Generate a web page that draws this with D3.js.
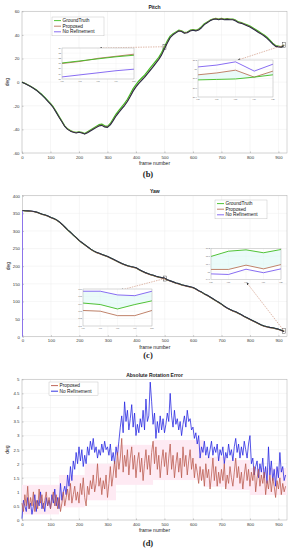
<!DOCTYPE html>
<html>
<head>
<meta charset="utf-8">
<script src="https://cdn.jsdelivr.net/npm/d3@7"></script>
<style>
  body { margin: 0; background: #fff; }
  svg { display: block; }
</style>
</head>
<body>
<svg id="chart" width="295" height="550"></svg>
<script>
// ---- data ----
const xTicks = [0, 100, 200, 300, 400, 500, 600, 700, 800, 900];
const pitchTicks = [-60, -40, -20, 0, 20, 40, 60];
const yawTicks = [0, 50, 100, 150, 200, 250, 300, 350, 400];
const errTicks = [0, 0.5, 1, 1.5, 2, 2.5, 3, 3.5, 4, 4.5, 5];
const errTickLabels = ["0", "0.5", "1", "1.5", "2", "2.5", "3", "3.5", "4", "4.5", "5"];

const seriesNames = ["GroundTruth", "Proposed", "No Refinement"];
const errNames = ["Proposed", "No Refinement"];

// frames 0..920 every 10
const pitchFrames = d3.range(0, 930, 10);
const pitchGT = [0,-1,-2.2,-3.5,-5,-6.5,-8.5,-10.5,-13,-15.5,
  -18,-21,-25,-29,-33,-37,-39.5,-41,-42,-42.5,
  -42,-42.5,-43.5,-42,-40.5,-39,-37.5,-36,-35.5,-37,
  -37.5,-35,-31,-27,-24,-21,-18,-14.5,-10,-5.5,
  -2,1,3.5,6,9,12,15,18,21,25,
  30,35,39,41,42.5,44,43.5,42,42.5,44,
  44.5,44,45,47,49.5,51,52.5,53.5,54,53.5,
  54,53.5,53.8,53.5,53.5,52.5,51,50.5,49.5,48.5,
  47.5,46,44.5,43,41.5,40,38,35.5,33,31,
  30.5,30,31.5];
const pitchProposed = [0,-1.1,-2.3,-3.6,-5.1,-6.7,-8.6,-10.8,-13.2,-15.8,
  -18.4,-21.5,-25.4,-29.5,-33.4,-37.3,-39.8,-41.3,-42.2,-42.8,
  -42.3,-42.9,-43.8,-42.5,-41,-39.6,-38.2,-36.8,-36.3,-37.6,
  -38,-35.8,-32.2,-28.3,-25.2,-22.3,-19.4,-16,-11.8,-7.2,
  -3.6,-0.6,2,4.4,7.4,10.4,13.4,16.5,19.6,23.5,
  28.6,33.6,38,40.4,42,43.6,43.2,41.7,42.1,43.6,
  44.2,43.7,44.5,46.4,49,50.6,52.2,53.3,53.8,53.2,
  53.8,53.2,53.5,53.2,53.1,52.1,50.6,50.1,49.1,48,
  47,45.5,44,42.4,41,39.4,37.4,35,32.6,30.6,
  30.2,29.8,31.3];
const pitchNoRef = [0,-1.2,-2.4,-3.7,-5.2,-6.8,-8.8,-10.9,-13.4,-16,
  -18.6,-21.7,-25.6,-29.7,-33.6,-37.5,-40,-41.5,-42.4,-43,
  -42.5,-43.1,-44,-42.8,-41.3,-39.9,-38.5,-37.1,-36.6,-37.9,
  -38.3,-36.2,-32.6,-28.7,-25.6,-22.7,-19.8,-16.4,-12.2,-7.6,
  -4,-1,1.6,4,7,10,13,16.1,19.2,23.1,
  28.2,33.2,37.7,40.1,41.7,43.3,42.9,41.4,41.8,43.3,
  43.9,43.4,44.2,46.1,48.7,50.3,51.9,53,53.5,52.9,
  53.5,52.9,53.2,52.9,52.8,51.8,50.3,49.8,48.8,47.7,
  46.7,45.2,43.7,42.1,40.7,39.1,37.1,34.7,32.3,30.3,
  29.9,29.5,31];

const yawFrames = d3.range(0, 930, 10);
const yawGT = [358,357,356.5,356,355,353,350,347,345,342,
  338,335,331,325,318,310,302,295,287,280,
  272,266,260,254,248,243,239,236,233,230,
  227,223,219,215,211,207,204,201,199,197,
  195,190,186,182,179,176,174,171,169,167,
  165,161,158,155,152,150,147,145,143,141,
  139,135,130,126,121,117,112,107,102,97,
  92,86,81,77,73,70,66,62,57,53,
  49,45,41,37,33,30,28,26,25,23,
  21,18,16];
const yawProposed = [358,356.8,356.2,355.6,354.5,352.4,349.3,346.4,344.3,341.2,
  337.1,334.2,330.1,324.2,317.1,309.2,301.1,294.2,286.1,279.2,
  271.1,265.2,259.1,253.2,247.1,242.3,238.1,235.2,232.1,229.3,
  226.1,222.2,218.1,214.3,210.1,206.2,203.1,200.3,198.1,196.2,
  194.1,189.3,185.1,181.2,178.1,175.2,173.1,170.2,168.1,166.2,
  163.8,160.1,157.2,154.1,151.2,149.1,146.2,144.1,142.2,140.1,
  138.2,134.1,129.2,125.1,120.2,116.1,111.2,106.1,101.2,96.1,
  91.2,85.1,80.2,76.1,72.2,69.1,65.2,61.1,56.2,52.1,
  48.2,44.1,40.2,36.1,32.2,29.1,27.2,25.1,24.2,22.1,
  20.2,17.1,15.3];
const yawNoRef = [358,357.4,356.9,356.5,355.4,353.5,350.4,347.5,345.4,342.5,
  338.4,335.5,331.4,325.5,318.4,310.5,302.4,295.5,287.4,280.5,
  272.4,266.5,260.4,254.5,248.4,243.5,239.4,236.5,233.4,230.5,
  227.4,223.5,219.4,215.5,211.4,207.5,204.4,201.5,199.4,197.5,
  195.4,190.5,186.4,182.5,179.4,176.5,174.4,171.5,169.4,167.5,
  166.2,161.5,158.4,155.5,152.4,150.5,147.4,145.5,143.4,141.5,
  139.4,135.5,130.4,126.5,121.4,117.5,112.4,107.5,102.4,97.5,
  92.4,86.5,81.4,77.5,73.4,70.5,66.4,62.5,57.4,53.5,
  49.4,45.5,41.4,37.5,33.4,30.5,28.4,26.5,25.4,23.5,
  21.4,18.5,15];
const yawNoRefStart = 0; // No Refinement starts from 0 at frame 0

// zoom insets (5 frames each)
const pitchZoomA = { frames: [496, 497, 498, 499, 500], yDom: [28, 34], yTicks: [28, 29, 30, 31, 32, 33, 34],
  gt: [31.1, 31.5, 31.9, 32.3, 32.6], prop: [31.0, 31.4, 32.0, 32.4, 32.8], noref: [28.4, 28.8, 29.2, 29.6, 29.9] };
const pitchZoomB = { frames: [916, 917, 918, 919, 920], yDom: [30.4, 31.2], yTicks: [30.4, 30.6, 30.8, 31, 31.2],
  gt: [30.77, 30.78, 30.79, 30.83, 30.88], prop: [30.88, 30.92, 30.98, 30.83, 30.96], noref: [31.05, 31.09, 31.16, 30.96, 31.11] };
const yawZoomA = { frames: [496, 497, 498, 499, 500], yDom: [161, 166], yTicks: [161, 162, 163, 164, 165, 166],
  gt: [164.1, 163.9, 163.3, 163.9, 164.4], prop: [163.1, 163.0, 162.4, 162.4, 163.1], noref: [165.7, 165.7, 165.2, 165.1, 165.7] };
const yawZoomB = { frames: [916, 917, 918, 919, 920], yDom: [14.6, 16.2], yTicks: [14.6, 15, 15.4, 15.8, 16.2],
  gt: [15.79, 16.06, 16.13, 15.98, 16.15], prop: [15.12, 15.12, 15.34, 15.15, 15.37], noref: [14.89, 14.86, 15.13, 14.95, 15.15] };

// absolute rotation error, frames 0..925 every 5
const errFrames = d3.range(0, 930, 5);
const errNoRef = [0.05,0.7,0.5,0.3,0.8,0.4,0.6,0.2,0.5,0.9,0.3,0.7,0.5,1.0,0.4,0.6,0.3,0.8,0.5,0.7,
  0.4,0.9,0.6,1.1,0.5,0.8,0.4,1.3,0.7,1.0,
  1.2,0.9,1.6,1.2,1.9,1.4,2.1,1.8,2.4,2.0,
  2.6,2.1,2.5,1.9,2.3,2.0,2.6,2.3,2.8,2.5,
  2.9,2.4,2.6,2.2,2.5,2.3,2.7,2.4,2.8,2.5,
  2.6,2.3,2.7,2.1,2.4,2.0,2.6,2.3,2.8,3.3,
  3.7,3.1,4.2,3.5,3.9,3.2,3.6,4.1,3.3,3.8,
  3.0,3.4,3.1,3.6,3.3,3.9,3.2,4.3,3.5,3.7,
  4.9,4.2,3.4,3.8,2.9,3.5,3.1,3.7,3.2,3.6,
  3.1,3.4,3.8,3.5,4.5,3.7,3.3,3.9,3.4,3.6,
  3.2,3.5,3.0,3.4,3.7,3.3,3.9,3.5,3.6,3.2,
  3.3,2.9,3.1,2.7,3.0,2.2,2.6,2.4,2.8,2.3,
  2.6,2.2,2.5,2.8,2.3,2.6,2.4,2.7,2.1,2.5,
  2.3,2.6,2.0,2.4,2.2,2.7,2.3,2.5,2.1,2.6,
  2.9,2.4,2.7,2.2,2.6,2.3,2.8,2.5,2.2,2.7,
  3.0,2.0,2.2,1.6,1.9,2.1,1.5,2.0,1.7,2.2,
  1.5,1.9,1.3,2.6,1.6,2.1,1.4,1.8,1.2,1.9,
  1.5,2.4,1.7,1.9,1.4,1.6];
const errProposed = [0.6,0.3,0.9,0.5,1.2,0.4,0.8,0.5,1.0,0.3,0.7,0.4,1.1,0.6,0.9,0.4,0.7,1.0,0.5,0.8,
  0.4,0.7,1.0,0.5,0.9,0.4,0.8,0.3,0.6,1.0,
  0.5,0.8,1.1,0.7,1.3,0.6,0.9,1.2,0.7,1.0,
  0.6,1.3,0.9,1.5,0.8,0.5,1.2,0.9,1.4,1.1,
  1.6,1.0,1.3,2.0,1.2,1.5,0.9,1.4,1.1,1.6,
  0.8,1.3,1.9,1.2,1.6,2.1,1.5,2.4,1.8,2.2,
  2.9,1.7,2.3,1.9,2.5,1.6,2.2,2.6,1.8,2.3,
  1.5,2.1,2.4,1.7,2.2,1.4,2.0,2.5,1.8,2.3,
  1.6,2.4,2.8,2.0,2.6,1.8,2.3,1.5,2.1,2.5,
  1.9,2.4,1.6,2.2,2.7,1.8,2.3,1.5,2.0,2.4,
  1.7,2.2,1.5,2.6,1.9,2.3,1.6,2.1,2.5,1.8,
  2.2,1.5,2.0,1.7,1.3,1.9,1.4,1.8,1.2,2.0,
  1.5,1.8,1.1,1.6,2.2,1.4,1.9,1.2,1.7,1.3,
  1.8,1.4,2.0,1.1,1.6,1.3,1.9,1.5,1.2,1.7,
  2.2,1.5,1.9,1.3,1.7,1.1,1.6,2.0,1.4,1.8,
  1.2,1.7,1.4,1.9,1.0,1.5,1.8,1.2,1.6,1.3,
  1.7,0.9,1.4,1.1,1.6,1.0,1.5,1.2,0.8,1.4,
  1.1,1.5,0.9,1.3,1.0,1.2];
// shaded band behind the proposed error
const bandStart = [0, 130, 220, 330, 460, 640, 720, 800];
const bandEnd = [130, 220, 330, 460, 640, 720, 800, 930];
const bandLow = [0.2, 0.45, 0.7, 1.25, 1.42, 1.18, 1.07, 0.89];
const bandHigh = [1.25, 1.6, 2.0, 2.67, 2.84, 2.25, 2.13, 1.85];

// ---- drawing ----
const svg = d3.select("#chart");
const sans = '"Liberation Sans", Arial, sans-serif';
const serif = '"Liberation Serif", "DejaVu Serif", serif';
const colGT = "#3dbb1f", colProp = "#b9755a", colNoRef = "#7a5cf0";
const colMain = "#2d3048";

svg.append("defs").append("marker")
  .attr("id", "arrow").attr("viewBox", "0 0 6 6").attr("refX", 5).attr("refY", 3)
  .attr("markerWidth", 4).attr("markerHeight", 4).attr("orient", "auto")
  .append("path").attr("d", "M0,0 L6,3 L0,6 Z").attr("fill", "#333");

function makePanel(box, yDomain, yTicks, yLabels, title) {
  const x = d3.scaleLinear().domain([0, 930]).range([box.l, box.r]);
  const y = d3.scaleLinear().domain(yDomain).range([box.b, box.t]);
  const g = svg.append("g");

  g.append("rect").attr("x", box.l).attr("y", box.t)
    .attr("width", box.r - box.l).attr("height", box.b - box.t).attr("fill", "#fff");

  // grid
  g.append("g").selectAll("line").data(xTicks).join("line")
    .attr("x1", d => x(d)).attr("x2", d => x(d)).attr("y1", box.t).attr("y2", box.b)
    .attr("stroke", "#ececec").attr("stroke-width", 0.5);
  g.append("g").selectAll("line").data(yTicks).join("line")
    .attr("y1", d => y(d)).attr("y2", d => y(d)).attr("x1", box.l).attr("x2", box.r)
    .attr("stroke", "#ececec").attr("stroke-width", 0.5);

  const xAxis = g.append("g").attr("transform", `translate(0,${box.b})`)
    .call(d3.axisBottom(x).tickValues(xTicks).tickSizeInner(-1.5).tickSizeOuter(0).tickPadding(2.5));
  const yAxis = g.append("g").attr("transform", `translate(${box.l},0)`)
    .call(d3.axisLeft(y).tickValues(yTicks).tickFormat((d, i) => yLabels[i])
      .tickSizeInner(-1.5).tickSizeOuter(0).tickPadding(2.5));
  [xAxis, yAxis].forEach(a => {
    a.select(".domain").remove();
    a.selectAll("line").attr("stroke", "#777").attr("stroke-width", 0.4);
    a.selectAll("text").attr("font-family", sans).attr("font-size", 4.3).attr("fill", "#333");
  });

  g.append("rect").attr("x", box.l).attr("y", box.t)
    .attr("width", box.r - box.l).attr("height", box.b - box.t)
    .attr("fill", "none").attr("stroke", "#b0b0b0").attr("stroke-width", 0.5);

  g.append("text").attr("x", (box.l + box.r) / 2).attr("y", box.t - 2.5)
    .attr("text-anchor", "middle").attr("font-family", sans).attr("font-size", 5)
    .attr("font-weight", "bold").attr("fill", "#222").text(title);
  g.append("text").attr("x", (box.l + box.r) / 2).attr("y", box.b + box.xl)
    .attr("text-anchor", "middle").attr("font-family", sans).attr("font-size", 5)
    .attr("fill", "#222").text("frame number");
  g.append("text").attr("transform", `translate(${box.l - 13},${(box.t + box.b) / 2}) rotate(-90)`)
    .attr("text-anchor", "middle").attr("font-family", sans).attr("font-size", 5)
    .attr("fill", "#222").text("deg");
  g.append("text").attr("x", 148).attr("y", box.cap)
    .attr("text-anchor", "middle").attr("font-family", serif).attr("font-size", 8.5)
    .attr("font-weight", "bold").attr("fill", "#222").text(box.caption);
  return { g, x, y };
}

function drawLine(p, frames, values, color, width) {
  const line = d3.line().x((d, i) => p.x(frames[i])).y(d => p.y(d));
  p.g.append("path").datum(values).attr("d", line)
    .attr("fill", "none").attr("stroke", color).attr("stroke-width", width)
    .attr("stroke-linejoin", "round");
}

function drawLegend(x0, y0, w, names, colors) {
  const g = svg.append("g");
  const h = names.length * 5.6 + 2;
  g.append("rect").attr("x", x0).attr("y", y0).attr("width", w).attr("height", h)
    .attr("fill", "#fff").attr("stroke", "#bbb").attr("stroke-width", 0.4);
  names.forEach((n, i) => {
    const yy = y0 + 3.6 + i * 5.6;
    g.append("line").attr("x1", x0 + 2).attr("x2", x0 + 9).attr("y1", yy).attr("y2", yy)
      .attr("stroke", colors[i]).attr("stroke-width", 0.9);
    g.append("text").attr("x", x0 + 10.5).attr("y", yy + 1.6)
      .attr("font-family", sans).attr("font-size", 4.8).attr("fill", "#111").text(n);
  });
}

function drawInset(box, z) {
  const x = d3.scaleLinear().domain([z.frames[0], z.frames[4]]).range([box.x, box.x + box.w]);
  const y = d3.scaleLinear().domain(z.yDom).range([box.y + box.h, box.y]);
  const g = svg.append("g");
  g.append("rect").attr("x", box.x).attr("y", box.y).attr("width", box.w).attr("height", box.h)
    .attr("fill", "#fff");
  g.append("g").selectAll("line").data(z.frames).join("line")
    .attr("x1", d => x(d)).attr("x2", d => x(d)).attr("y1", box.y).attr("y2", box.y + box.h)
    .attr("stroke", "#f0f0f0").attr("stroke-width", 0.4);
  g.append("g").selectAll("line").data(z.yTicks).join("line")
    .attr("y1", d => y(d)).attr("y2", d => y(d)).attr("x1", box.x).attr("x2", box.x + box.w)
    .attr("stroke", "#f0f0f0").attr("stroke-width", 0.4);
  // light band between ground truth and the nearest estimate
  const other = box.fillWith === "noref" ? z.noref : z.prop;
  const area = d3.area().x((d, i) => x(z.frames[i])).y0((d, i) => y(other[i])).y1(d => y(d));
  g.append("path").datum(z.gt).attr("d", area).attr("fill", "#dcf8f5").attr("opacity", 0.6);
  const line = d3.line().x((d, i) => x(z.frames[i])).y(d => y(d));
  [[z.noref, colNoRef], [z.prop, colProp], [z.gt, colGT]].forEach(([v, c]) => {
    g.append("path").datum(v).attr("d", line).attr("fill", "none")
      .attr("stroke", c).attr("stroke-width", 0.9);
  });
  g.append("rect").attr("x", box.x).attr("y", box.y).attr("width", box.w).attr("height", box.h)
    .attr("fill", "none").attr("stroke", "#aaa").attr("stroke-width", 0.4);
  g.append("g").selectAll("text").data(z.frames).join("text")
    .attr("x", d => x(d)).attr("y", box.y + box.h + 3)
    .attr("text-anchor", "middle").attr("font-family", sans).attr("font-size", 2.2)
    .attr("fill", "#666").text(d => d);
  g.append("g").selectAll("text").data(z.yTicks).join("text")
    .attr("x", box.x - 1).attr("y", d => y(d) + 0.8)
    .attr("text-anchor", "end").attr("font-family", sans).attr("font-size", 2.2)
    .attr("fill", "#666").text(d => d);
}

function zoomMark(p, frame, value, tx, ty) {
  const cx = p.x(frame), cy = p.y(value);
  p.g.append("rect").attr("x", cx - 1.5).attr("y", cy - 2.5).attr("width", 3).attr("height", 5)
    .attr("fill", "none").attr("stroke", "#333").attr("stroke-width", 0.4);
  svg.append("line").attr("x1", cx).attr("y1", cy).attr("x2", tx).attr("y2", ty)
    .attr("stroke", "#c98a70").attr("stroke-width", 0.6).attr("stroke-dasharray", "1.5,1")
    .attr("marker-end", "url(#arrow)");
}

// Pitch
const pPitch = makePanel({ l: 22, r: 287, t: 11.3, b: 153, xl: 11.5, cap: 177, caption: "(b)" },
  [-60, 60], pitchTicks, pitchTicks.map(String), "Pitch");
drawLine(pPitch, pitchFrames, pitchGT, colGT, 1.2);
drawLine(pPitch, pitchFrames, pitchProposed, colProp, 1.0);
drawLine(pPitch, pitchFrames, pitchNoRef, colMain, 1.1);
zoomMark(pPitch, 500, pitchGT[50], 100, 48);
zoomMark(pPitch, 920, pitchGT[92], 238, 60);
drawInset({ x: 62, y: 48, w: 72, h: 31, fillWith: "prop" }, pitchZoomA);
drawInset({ x: 198, y: 60, w: 75, h: 37, fillWith: "prop" }, pitchZoomB);
drawLegend(52, 17, 52, seriesNames, [colGT, colProp, colNoRef]);

// Yaw
const pYaw = makePanel({ l: 22.5, r: 287, t: 195.7, b: 336.7, xl: 12.5, cap: 358, caption: "(c)" },
  [0, 400], yawTicks, yawTicks.map(String), "Yaw");
drawLine(pYaw, [0].concat(yawFrames), [yawNoRefStart].concat(yawNoRef), colNoRef, 0.8);
drawLine(pYaw, yawFrames, yawGT, colGT, 1.1);
drawLine(pYaw, yawFrames, yawProposed, colProp, 1.0);
drawLine(pYaw, yawFrames, yawNoRef, colMain, 1.1);
zoomMark(pYaw, 500, yawGT[50], 121, 290);
zoomMark(pYaw, 920, yawGT[92], 247, 283);
drawInset({ x: 83, y: 289, w: 69, h: 37, fillWith: "noref" }, yawZoomA);
drawInset({ x: 211, y: 248.5, w: 70, h: 31, fillWith: "prop" }, yawZoomB);
drawLegend(215, 200, 52, seriesNames, [colGT, colProp, colNoRef]);

// Absolute Rotation Error
const pErr = makePanel({ l: 22, r: 287, t: 379.3, b: 520, xl: 12, cap: 546, caption: "(d)" },
  [0, 5], errTicks, errTickLabels, "Absolute Rotation Error");
pErr.g.append("g").selectAll("rect").data(bandStart).join("rect")
  .attr("x", (d, i) => pErr.x(d)).attr("width", (d, i) => pErr.x(bandEnd[i]) - pErr.x(d))
  .attr("y", (d, i) => pErr.y(bandHigh[i])).attr("height", (d, i) => pErr.y(bandLow[i]) - pErr.y(bandHigh[i]))
  .attr("fill", "#feeaf3");
drawLine(pErr, errFrames, errNoRef, "#1f1fe0", 0.75);
drawLine(pErr, errFrames, errProposed, "#b8574a", 0.75);
drawLegend(49, 382, 49, errNames, ["#b8574a", "#1f1fe0"]);
</script>
</body>
</html>
